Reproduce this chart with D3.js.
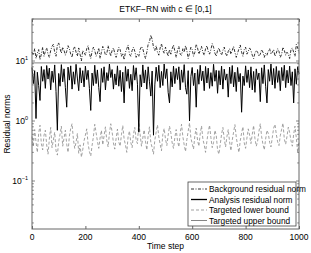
<!DOCTYPE html>
<html>
<head>
<meta charset="utf-8">
<script src="https://cdn.jsdelivr.net/npm/d3@7"></script>
<style>
  body { margin: 0; background: #fff; }
  svg { font-family: "Liberation Sans", Arial, sans-serif; }
</style>
</head>
<body>
<div id="chart"></div>
<script>
// values, one point every 5 time steps (0..1000)
var timeStep = 5;

var analysisNorm = [
  7.8, 4.2, 6.9, 1.1, 6.5, 3.9, 2.2, 8.1, 4.6, 7.2,
  3.5, 8.4, 5.0, 7.6, 3.3, 6.8, 4.4, 8.6, 3.1, 0.7,
  6.2, 3.8, 8.7, 4.5, 7.4, 3.6, 1.7, 7.9, 4.8, 8.3,
  3.4, 6.6, 4.1, 8.8, 5.2, 3.2, 7.7, 4.3, 6.9, 3.7,
  8.2, 4.9, 7.0, 3.5, 1.5, 6.3, 3.9, 8.5, 4.2, 7.1,
  3.6, 2.1, 7.5, 4.4, 8.0, 3.3, 6.4, 4.7, 8.9, 5.3,
  7.2, 3.4, 6.1, 4.0, 8.3, 3.8, 7.0, 3.1, 6.5, 2.0,
  8.1, 4.6, 7.3, 3.5, 6.0, 3.2, 8.4, 4.8, 7.7, 4.1,
  0.65, 5.9, 3.7, 8.6, 4.3, 7.1, 3.4, 8.0, 4.5, 2.6,
  6.8, 0.58, 4.0, 7.9, 4.6, 8.5, 3.6, 6.7, 3.9, 8.9,
  5.1, 7.4, 3.0, 2.0, 6.6, 3.7, 8.2, 4.2, 7.5, 4.9,
  8.0, 3.3, 7.1, 4.4, 8.7, 3.6, 2.8, 6.9, 1.0, 5.5,
  7.8, 3.9, 6.3, 1.7, 7.2, 4.1, 8.5, 4.7, 6.8, 3.2,
  8.1, 4.3, 7.6, 3.5, 6.4, 3.8, 8.8, 4.6, 7.0, 2.9,
  6.9, 4.0, 8.2, 3.4, 7.3, 4.8, 6.1, 2.5, 7.9, 4.2,
  8.4, 3.7, 6.5, 3.1, 7.8, 4.5, 6.2, 1.4, 5.6, 3.9,
  8.3, 4.4, 7.1, 3.6, 8.0, 3.3, 6.7, 3.0, 7.4, 4.9,
  6.3, 2.1, 7.7, 4.2, 8.6, 3.8, 2.0, 7.2, 4.6, 8.9,
  4.0, 7.5, 3.5, 8.1, 4.4, 6.9, 3.2, 7.8, 4.7, 8.5,
  3.6, 7.0, 4.3, 8.2, 3.9, 6.6, 2.0, 7.4, 4.1, 8.0,
  6.1
];

var backgroundNorm = [
  14, 12.5, 16, 11, 13.5, 15.5, 10.5, 13, 17, 12,
  14.5, 16.5, 13, 11.5, 15, 17.5, 19, 14, 12, 18.5,
  20, 16, 13.5, 17, 15, 12.5, 14.5, 18, 16, 13,
  11.5, 15.5, 17.5, 14, 12, 16.5, 13, 10, 15, 14,
  12.5, 16, 18, 13.5, 11, 14.5, 17, 15, 12, 13.5,
  16.5, 11, 14, 17.5, 15.5, 12.5, 13, 18, 14.5, 12,
  15, 16.5, 13.5, 11.5, 14, 17, 15.5, 12, 13.5, 10.5,
  14, 16, 18.5, 13, 12, 15, 17, 14.5, 11.5, 13,
  12, 15.5, 17.5, 16, 13, 11, 14, 19, 21, 27,
  23, 17, 15, 18, 14, 12.5, 16.5, 19.5, 15, 13.5,
  17, 14, 12, 15.5, 13, 16, 18.5, 14.5, 11.5, 15,
  17.5, 13, 12.5, 16, 14, 18, 15, 11, 13.5, 17,
  15.5, 12, 14, 19, 16.5, 13, 15, 17.5, 14, 12.5,
  16, 18, 14.5, 13, 15.5, 19.5, 17, 13.5, 12, 15,
  16.5, 14, 12.5, 15, 17, 13.5, 12, 14.5, 16, 13,
  15, 17.5, 14, 11.5, 13.5, 16, 18.5, 14, 12, 15.5,
  17, 13, 14.5, 16.5, 15, 12.5, 11, 13.5, 15, 14,
  12, 13, 15.5, 14, 11.5, 13.5, 12.5, 14.5, 16, 13,
  14, 15.5, 12, 13.5, 16, 14.5, 11.5, 13, 17, 15,
  12.5, 14, 13, 11, 15.5, 16.5, 14, 12, 19, 16.5,
  13.5
];

var lowerBound = [
  0.55, 0.38, 0.72, 0.45, 0.3, 0.62, 0.85, 0.42, 0.33, 0.58,
  0.7, 0.4, 0.28, 0.5, 0.78, 0.36, 0.48, 0.65, 0.32, 0.27,
  0.45, 0.6, 0.82, 0.38, 0.52, 0.7, 0.41, 0.3, 0.56, 0.75,
  0.9, 0.5, 0.35, 0.44, 0.62, 0.29, 0.4, 0.25, 0.33, 0.47,
  0.58, 0.74, 0.42, 0.31, 0.26, 0.39, 0.55, 0.88, 0.64, 0.46,
  0.35, 0.52, 0.7, 0.4, 0.57, 0.8, 0.48, 0.37, 0.62, 0.9,
  0.66, 0.43, 0.34, 0.51, 0.73, 0.45, 0.38, 0.59, 0.84, 0.5,
  0.4, 0.3, 0.55, 0.68, 0.44, 0.36, 0.6, 0.78, 0.48, 0.42,
  0.95, 0.6, 0.38, 0.52, 0.71, 0.46, 0.33, 0.57, 0.8, 0.44,
  0.36, 0.28, 0.48, 0.65, 0.86, 0.54, 0.41, 0.32, 0.6, 0.75,
  0.5, 0.39, 0.58, 0.82, 0.64, 0.43, 0.35, 0.53, 0.72, 0.47,
  0.37, 0.62, 0.88, 0.55, 0.4, 0.31, 0.49, 0.68, 0.93, 0.52,
  0.42, 0.34, 0.57, 0.76, 0.48, 0.38, 0.61, 0.83, 0.5, 0.4,
  0.3, 0.46, 0.66, 0.85, 0.53, 0.36, 0.44, 0.7, 0.58, 0.33,
  0.28, 0.41, 0.6, 0.78, 0.5, 0.37, 0.55, 0.72, 0.45, 0.32,
  0.48, 0.65, 0.87, 0.54, 0.39, 0.3, 0.47, 0.63, 0.8, 0.43,
  0.35, 0.52, 0.74, 0.58, 0.42, 0.6, 0.84, 0.51, 0.38, 0.46,
  0.67, 0.9, 0.55, 0.41, 0.33, 0.5, 0.7, 0.62, 0.44, 0.37,
  0.53, 0.76, 0.88, 0.6, 0.45, 0.39, 0.57, 0.73, 0.92, 0.5,
  0.41, 0.55, 0.79, 0.64, 0.47, 0.38, 0.6, 0.82, 0.52, 0.3,
  0.45
];

var upperBound = 9.3;

var xTicks = [0, 200, 400, 600, 800, 1000];
var yDecades = [-1, 0, 1];
var legendLabels = ["Background residual norm", "Analysis residual norm",
                    "Targeted lower bound", "Targeted upper bound"];

var width = 311, height = 253,
    margin = {top: 19, left: 32, bottom: 24, right: 12},
    axisColor = "#666";

var svg = d3.select("#chart").append("svg")
    .attr("width", width)
    .attr("height", height);

var x = d3.scaleLinear().domain([0, 1000]).range([margin.left, width - margin.right]);
var y = d3.scaleLog().domain([Math.pow(10, -1.8), Math.pow(10, 1.7)])
    .range([height - margin.bottom, margin.top]);

var x0 = margin.left, x1 = width - margin.right,
    y0 = height - margin.bottom, y1 = margin.top;

function toPoints(arr) {
    return arr.map(function (v, i) { return [i * timeStep, v]; });
}

var line = d3.line()
    .x(function (d) { return x(d[0]); })
    .y(function (d) { return y(d[1]); });

var plot = svg.append("g");

plot.append("path")
    .datum(toPoints(lowerBound))
    .attr("d", line)
    .attr("fill", "none")
    .attr("stroke", "#8a8a8a")
    .attr("stroke-width", 0.8)
    .attr("stroke-dasharray", "3,2");

plot.append("path")
    .datum([[0, upperBound], [1000, upperBound]])
    .attr("d", line)
    .attr("fill", "none")
    .attr("stroke", "#777")
    .attr("stroke-width", 0.9);

plot.append("path")
    .datum(toPoints(backgroundNorm))
    .attr("d", line)
    .attr("fill", "none")
    .attr("stroke", "#000")
    .attr("stroke-width", 0.8)
    .attr("stroke-dasharray", "3,1.5,1,1.5");

plot.append("path")
    .datum(toPoints(analysisNorm))
    .attr("d", line)
    .attr("fill", "none")
    .attr("stroke", "#000")
    .attr("stroke-width", 1);

// axes box (matlab style, ticks inward on all four sides)
var axes = svg.append("g").attr("stroke", axisColor).attr("fill", "none");

axes.append("rect")
    .attr("x", x0).attr("y", y1)
    .attr("width", x1 - x0).attr("height", y0 - y1)
    .attr("stroke-width", 1);

var bottomAxis = d3.axisBottom(x).tickValues(xTicks).tickSize(-3).tickFormat("");
var topAxis = d3.axisTop(x).tickValues(xTicks).tickSize(-3).tickFormat("");
svg.append("g").attr("transform", "translate(0," + y0 + ")").call(bottomAxis);
svg.append("g").attr("transform", "translate(0," + y1 + ")").call(topAxis);

var minorY = [];
for (var e = -2; e <= 1; e++) {
    for (var m = 1; m <= 9; m++) {
        var v = m * Math.pow(10, e);
        if (v >= y.domain()[0] && v <= y.domain()[1]) minorY.push(v);
    }
}
minorY.forEach(function (v) {
    var len = (Math.abs(Math.log10(v) - Math.round(Math.log10(v))) < 1e-9) ? 3 : 1.8;
    axes.append("line").attr("x1", x0).attr("x2", x0 + len)
        .attr("y1", y(v)).attr("y2", y(v)).attr("stroke-width", 0.8);
    axes.append("line").attr("x1", x1).attr("x2", x1 - len)
        .attr("y1", y(v)).attr("y2", y(v)).attr("stroke-width", 0.8);
});

svg.selectAll(".domain").remove();
svg.selectAll(".tick line").attr("stroke", axisColor);

// tick labels
svg.selectAll(".xLabel")
    .data(xTicks)
    .enter()
    .append("text")
    .text(function (d) { return d; })
    .attr("x", function (d) { return x(d); })
    .attr("y", y0 + 11)
    .attr("text-anchor", "middle")
    .attr("font-size", 8.5)
    .attr("fill", "#000");

var yLab = svg.selectAll(".yLabel")
    .data(yDecades)
    .enter()
    .append("text")
    .attr("x", x0 - 4)
    .attr("y", function (d) { return y(Math.pow(10, d)) + 3; })
    .attr("text-anchor", "end")
    .attr("font-size", 8.5)
    .attr("fill", "#000");
yLab.append("tspan").text("10");
yLab.append("tspan")
    .text(function (d) { return d < 0 ? "\u2212" + (-d) : d; })
    .attr("font-size", 5.5)
    .attr("dy", -4);

svg.append("text")
    .text("ETKF\u2212RN with c \u2208 [0,1]")
    .attr("x", (x0 + x1) / 2)
    .attr("y", 12)
    .attr("text-anchor", "middle")
    .attr("font-size", 8.5);

svg.append("text")
    .text("Time step")
    .attr("x", (x0 + x1) / 2)
    .attr("y", height - 4)
    .attr("text-anchor", "middle")
    .attr("font-size", 8.5);

svg.append("text")
    .text("Residual norms")
    .attr("transform", "translate(10," + ((y0 + y1) / 2) + ") rotate(-90)")
    .attr("text-anchor", "middle")
    .attr("font-size", 8.5);

// legend
var lg = svg.append("g").attr("transform", "translate(188,182)");
lg.append("rect")
    .attr("width", 108).attr("height", 44)
    .attr("fill", "#fff").attr("stroke", "#444").attr("stroke-width", 0.8);

var legendStyles = [
    {stroke: "#000", dash: "3,1.5,1,1.5", w: 0.8},
    {stroke: "#000", dash: null, w: 1.3},
    {stroke: "#8a8a8a", dash: "3,2", w: 0.8},
    {stroke: "#777", dash: null, w: 0.9}
];

var entries = lg.selectAll(".entry")
    .data(legendLabels)
    .enter()
    .append("g")
    .attr("transform", function (d, i) { return "translate(0," + (7 + i * 10.5) + ")"; });

entries.append("line")
    .attr("x1", 3).attr("x2", 19)
    .attr("stroke", function (d, i) { return legendStyles[i].stroke; })
    .attr("stroke-width", function (d, i) { return legendStyles[i].w; })
    .attr("stroke-dasharray", function (d, i) { return legendStyles[i].dash; });

entries.append("text")
    .text(function (d) { return d; })
    .attr("x", 21)
    .attr("y", 3)
    .attr("font-size", 8.3);
</script>
</body>
</html>
